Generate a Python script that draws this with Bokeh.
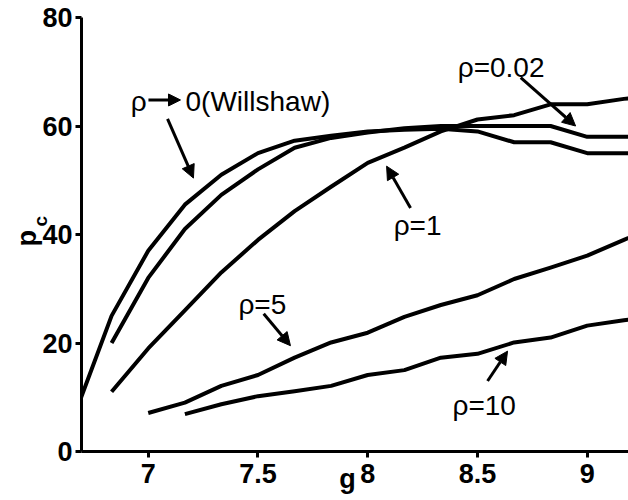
from bokeh.plotting import figure
from bokeh.models import Range1d, FixedTicker, Label, Arrow, NormalHead, LinearAxis
from bokeh.embed import file_html
from bokeh.resources import INLINE

# ---- data ----
g = [6.667, 6.833, 7.0, 7.167, 7.333, 7.5, 7.667, 7.833, 8.0, 8.167,
     8.333, 8.5, 8.667, 8.833, 9.0, 9.167, 9.333]

pc_willshaw = [7, 25, 37, 45.5, 51, 55, 57.3, 58.2, 59, 59.3, 59.5, 59, 57, 57, 55, 55, 55]
pc_rho002 = [None, 20, 32, 41, 47.3, 52, 56, 57.8, 58.8, 59.6, 60, 60, 60, 60, 58, 58, 58]
pc_rho1 = [None, 11, 19, 26, 33, 39, 44.3, 48.8, 53.2, 56, 59, 61.2, 62, 64, 64, 65, 65.5]
pc_rho5 = [None, None, 7.1, 9, 12.1, 14.1, 17.3, 20.1, 21.9, 24.8, 27, 28.8, 31.8, 33.9, 36.1, 39, 42]
pc_rho10 = [None, None, None, 6.9, 8.7, 10.2, 11.1, 12.1, 14.1, 15, 17.3, 18, 20.1, 21, 23.2, 24.2, 25]

x_ticks = [7, 7.5, 8, 8.5, 9]
x_tick_labels = ["7", "7.5", "8", "8.5", "9"]
y_ticks = [0, 20, 40, 60, 80]

FONT = "Liberation Sans"
NB = "\u00a0"

p = figure(width=628, height=500,
           x_range=Range1d(6.696, 9.188), y_range=Range1d(0, 80),
           output_backend="svg", toolbar_location=None,
           min_border_left=81, min_border_top=17, min_border_right=0, min_border_bottom=49)

p.xgrid.visible = False
p.ygrid.visible = False
p.outline_line_color = None
p.background_fill_color = "white"
p.border_fill_color = "white"

for ax in (p.xaxis[0], p.yaxis[0]):
    ax.axis_line_width = 3
    ax.axis_line_color = "black"
    ax.major_tick_line_width = 3
    ax.major_tick_line_color = "black"
    ax.major_tick_out = 6
    ax.major_tick_in = 0
    ax.minor_tick_line_color = None
    ax.major_label_text_font = FONT
    ax.major_label_text_font_style = "bold"
    ax.major_label_text_font_size = "27px"
    ax.major_label_text_color = "black"
    ax.axis_label_text_font = FONT
    ax.axis_label_text_font_style = "bold"
    ax.axis_label_text_color = "black"

xa = p.xaxis[0]
xa.ticker = FixedTicker(ticks=x_ticks)
xa.major_label_overrides = {t: s for t, s in zip(x_ticks, x_tick_labels)}
xa.major_label_standoff = 6
xa.axis_label = "g" + NB + NB
xa.axis_label_text_font_size = "27px"
xa.axis_label_standoff = -22

ya = p.yaxis[0]
ya.ticker = FixedTicker(ticks=y_ticks)
ya.major_label_standoff = 3
ya.axis_label = NB * 5 + "c"
ya.axis_label_text_font_size = "19px"
ya.axis_label_standoff = -12

# outer left axis only carries the main symbol "p" of the y title
pa = LinearAxis(ticker=FixedTicker(ticks=[]), axis_line_color=None,
                major_tick_line_color=None, minor_tick_line_color=None,
                major_tick_out=0, major_label_standoff=0,
                axis_label="p" + NB, axis_label_text_font=FONT,
                axis_label_text_font_style="bold", axis_label_text_font_size="27px",
                axis_label_text_color="black", axis_label_standoff=-14)
p.add_layout(pa, "left")

def seg(ys):
    xs2 = [x for x, y in zip(g, ys) if y is not None]
    ys2 = [y for y in ys if y is not None]
    return xs2, ys2

for ys in (pc_willshaw, pc_rho002, pc_rho1, pc_rho5, pc_rho10):
    xx, yy = seg(ys)
    p.line(xx, yy, line_color="black", line_width=4, line_join="round")

def lab(x, y, text, size="28px", style="normal"):
    p.add_layout(Label(x=x, y=y, text=text, text_font=FONT, text_font_size=size,
                       text_font_style=style, text_color="black",
                       text_align="left", text_baseline="alphabetic"))

def arr(x0, y0, x1, y1, size=13):
    p.add_layout(Arrow(end=NormalHead(size=size, fill_color="black", line_color="black", line_width=1),
                       x_start=x0, y_start=y0, x_end=x1, y_end=y1,
                       line_color="black", line_width=3))

# annotations
lab(6.920, 64.6, "ρ")
arr(7.001, 64.8, 7.147, 64.8, size=12)
lab(7.170, 64.6, "0(Willshaw)")
arr(7.088, 61.3, 7.206, 50.4)

lab(8.41, 70.7, "ρ=0.02")
arr(8.697, 68.9, 8.947, 60.0)

lab(8.118, 41.6, "ρ=1")
arr(8.195, 44.9, 8.086, 52.6)

lab(7.411, 27.1, "ρ=5")
arr(7.526, 25.4, 7.648, 19.5)

lab(8.386, 8.4, "ρ=10")
arr(8.546, 13.0, 8.637, 18.5)

open("out.html", "w").write(file_html(p, INLINE))
